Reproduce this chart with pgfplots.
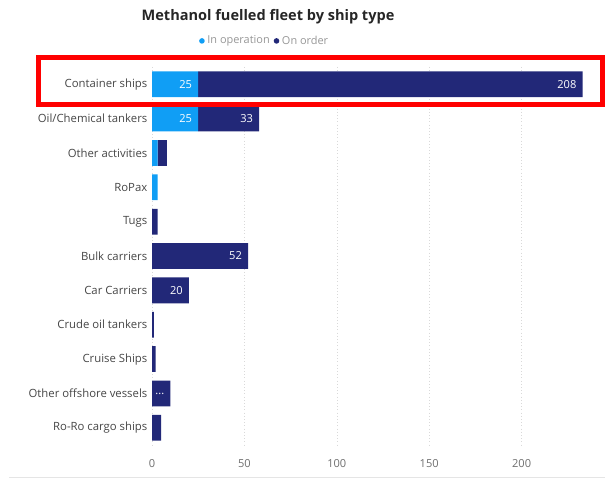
\documentclass[border=0pt]{standalone}
\usepackage{fontspec}
\setmainfont{Open Sans}
\usepackage{pgfplots}
\usepackage{pgfplotstable}
\pgfplotsset{compat=1.18}

\definecolor{oplight}{RGB}{16,158,245}
\definecolor{ordnavy}{RGB}{34,40,120}
\definecolor{labgray}{RGB}{70,70,70}
\definecolor{tickgray}{RGB}{110,110,110}
\definecolor{leggray}{RGB}{150,150,150}

% in operation
\pgfplotstableread{
idx op
0  25
1  25
2  3
3  3
4  0
5  0
6  0
7  0
8  0
9  0
10 0
}\opdata

% on order
\pgfplotstableread{
idx ord
0  208
1  33
2  5
3  0
4  3
5  52
6  20
7  1
8  2
9  10
10 5
}\orddata

% labels at the end of each segment (cumulative x)
\pgfplotstableread{
idx cum lab
0  25  25
1  25  25
0  233 208
1  58  33
5  52  52
6  20  20
9  10  ...
}\labdata

\pgfplotsset{
  chartframe/.style={
    at={(114pt,24.75pt)}, anchor=south west,
    scale only axis,
    width=328.5pt, height=283.5pt,
    xmin=0, xmax=237,
    ymin=-0.5, ymax=10.5,
    y dir=reverse,
  }
}

\begin{document}
\begin{tikzpicture}
\useasboundingbox (0,0) rectangle (453.75pt,358.5pt);

\node[font=\bfseries\fontsize{10.9}{12}\selectfont, text=black!85] at (201pt,345.75pt) {Methanol fuelled fleet by ship type};

\begin{axis}[
  chartframe,
  xbar stacked,
  bar width=0.75,
  ytick={0,...,10},
  yticklabels={Container ships,Oil/Chemical tankers,Other activities,RoPax,Tugs,Bulk carriers,Car Carriers,Crude oil tankers,Cruise Ships,Other offshore vessels,Ro-Ro cargo ships},
  xtick={0,50,100,150,200},
  axis line style={draw=none},
  major tick style={draw=none},
  xmajorgrids,
  grid style={dotted, gray!30},
  yticklabel style={font=\fontsize{8.5}{10}\selectfont, text=labgray},
  xticklabel style={font=\fontsize{8.3}{10}\selectfont, text=tickgray, yshift=-7pt},
  /pgf/number format/assume math mode=true,
  legend style={at={(0.258,1.069)}, anchor=center, draw=none, fill=none,
    font=\fontsize{8.2}{10}\selectfont, text=leggray, legend columns=-1,
    /tikz/every even column/.append style={column sep=1pt}},
  legend image code/.code={\fill[#1] (0pt,0pt) circle (2.1pt);},
]
\addplot[fill=oplight, draw=none] table[x=op, y=idx] {\opdata};
\addplot[fill=ordnavy, draw=none] table[x=ord, y=idx] {\orddata};
\legend{In operation,On order}
\end{axis}

\begin{axis}[
  chartframe,
  hide axis,
  point meta=explicit symbolic,
  nodes near coords,
  nodes near coords style={anchor=east, inner sep=0pt, xshift=-4.5pt, text=white, font=\fontsize{8.3}{10}\selectfont},
]
\addplot[draw=none, mark=none] table[x=cum, y=idx, meta=lab] {\labdata};
\end{axis}

\draw[red, line width=3.75pt] (28.875pt,280.125pt) rectangle (451.875pt,315.375pt);
\draw[gray!20, line width=0.75pt] (7pt,0.6pt) -- (453.75pt,0.6pt);
\end{tikzpicture}
\end{document}
